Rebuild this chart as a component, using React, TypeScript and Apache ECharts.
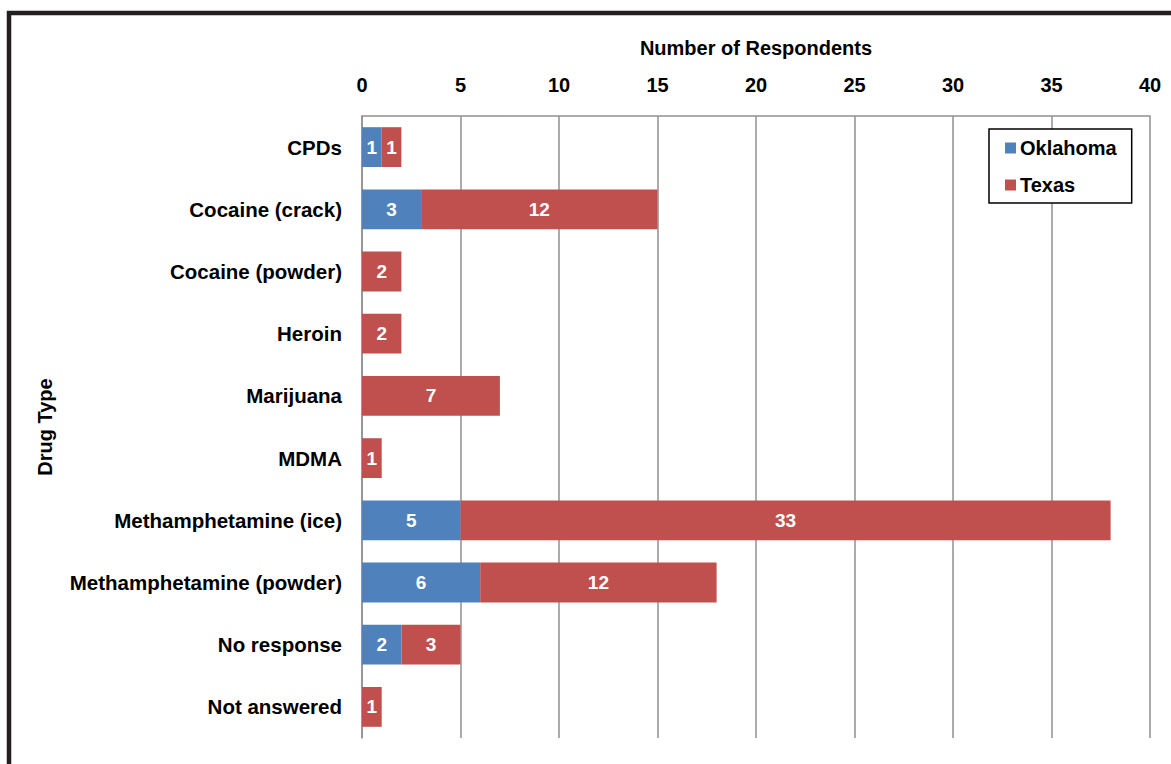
import React, { useEffect, useRef } from "react";
import * as echarts from "echarts";

const categories = [
  "CPDs",
  "Cocaine (crack)",
  "Cocaine (powder)",
  "Heroin",
  "Marijuana",
  "MDMA",
  "Methamphetamine (ice)",
  "Methamphetamine (powder)",
  "No response",
  "Not answered",
];
const oklahoma = [1, 3, 0, 0, 0, 0, 5, 6, 2, 0];
const texas = [1, 12, 2, 2, 7, 1, 33, 12, 3, 1];

const FONT = "'Liberation Sans', Arial, sans-serif";

export default function App() {
  const ref = useRef<HTMLDivElement>(null);
  useEffect(() => {
    document.body.style.margin = "0";
    const chart = echarts.init(ref.current!, null, { renderer: "svg" });
    const label = {
      show: true,
      position: "inside",
      color: "#fff",
      fontWeight: "bold",
      fontSize: 19,
      fontFamily: FONT,
      formatter: (p: any) => (p.value ? String(p.value) : ""),
    };
    chart.setOption({
      animation: false,
      backgroundColor: "#fff",
      textStyle: { fontFamily: FONT },
      graphic: [
        {
          type: "rect",
          shape: { x: 9, y: 13, width: 1250, height: 850 },
          style: { fill: "none", stroke: "#231f20", lineWidth: 4.5 },
          z: 100,
        },
      ],
      grid: { left: 362, top: 116, right: 21, bottom: 26, containLabel: false },
      legend: {
        orient: "vertical",
        left: 989,
        top: 129,
        data: ["Oklahoma", "Texas"],
        icon: "rect",
        itemWidth: 11,
        itemHeight: 11,
        itemGap: 17,
        padding: [9, 15, 8, 16],
        borderColor: "#000",
        borderWidth: 1.5,
        backgroundColor: "#fff",
        textStyle: { fontWeight: "bold", fontSize: 20, color: "#000", fontFamily: FONT, padding: [0, 0, 0, -1] },
      },
      xAxis: {
        type: "value",
        position: "top",
        min: 0,
        max: 40,
        interval: 5,
        name: "Number of Respondents",
        nameLocation: "middle",
        nameGap: 58,
        nameTextStyle: { fontWeight: "bold", fontSize: 20, color: "#000", fontFamily: FONT },
        axisLine: { show: true, lineStyle: { color: "#909090", width: 1.5 } },
        axisTick: { show: false },
        axisLabel: { fontWeight: "bold", fontSize: 20, color: "#000", margin: 21, fontFamily: FONT },
        splitLine: { show: true, lineStyle: { color: "#909090", width: 1.5 } },
      },
      yAxis: {
        type: "category",
        inverse: true,
        data: categories,
        name: "Drug Type",
        nameLocation: "middle",
        nameGap: 307,
        nameRotate: 90,
        nameTextStyle: { fontWeight: "bold", fontSize: 20, color: "#000", fontFamily: FONT },
        axisLine: { show: true, lineStyle: { color: "#909090", width: 1.5 } },
        axisTick: { show: false },
        axisLabel: { fontWeight: "bold", fontSize: 20.5, color: "#000", margin: 20, fontFamily: FONT },
        splitLine: { show: false },
      },
      series: [
        {
          name: "Oklahoma",
          type: "bar",
          stack: "total",
          data: oklahoma,
          barCategoryGap: "36%",
          itemStyle: { color: "#4F81BD" },
          label,
        },
        {
          name: "Texas",
          type: "bar",
          stack: "total",
          data: texas,
          barCategoryGap: "36%",
          itemStyle: { color: "#C0504D" },
          label,
        },
      ],
    });
    return () => chart.dispose();
  }, []);
  return <div ref={ref} style={{ width: 1171, height: 764 }} />;
}
